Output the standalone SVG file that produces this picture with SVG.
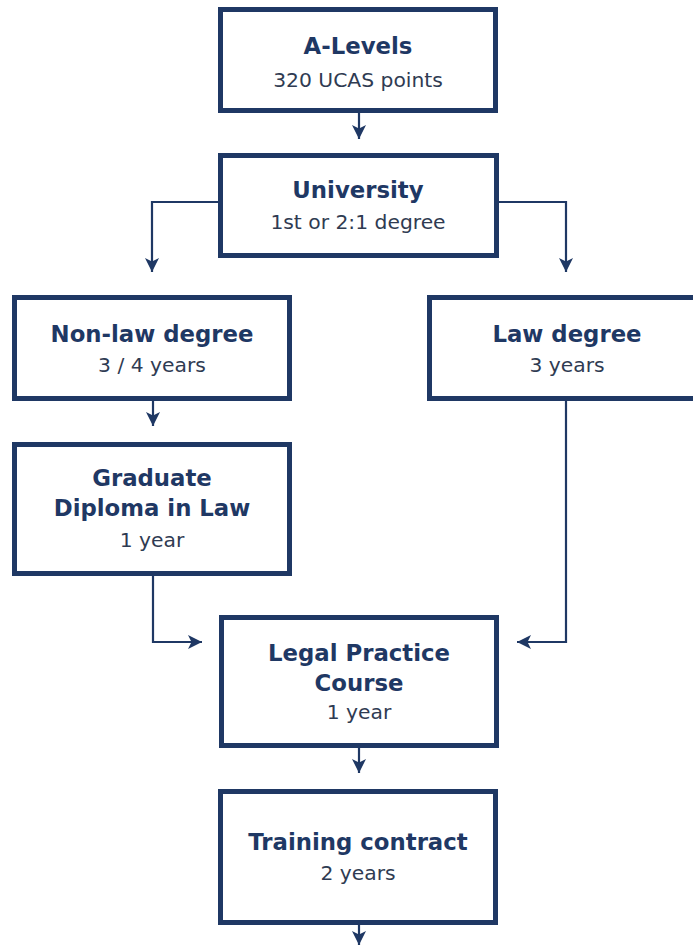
<svg xmlns="http://www.w3.org/2000/svg" width="693" height="946" viewBox="0 0 693 946">
<defs>
<style>
.box{fill:#ffffff;stroke:#1f3864;stroke-width:5}
.t{font-family:"DejaVu Sans",Verdana,sans-serif;font-weight:bold;font-size:22.8px;fill:#1f3864;text-anchor:middle}
.s{font-family:"DejaVu Sans",Verdana,sans-serif;font-size:20.3px;fill:#2f3b52;text-anchor:middle}
.c{fill:none;stroke:#1f3864;stroke-width:2.2}
</style>
<marker id="ah" markerWidth="16" markerHeight="16" refX="14" refY="7" orient="auto" markerUnits="userSpaceOnUse">
<path d="M0,0 L14,7 L0,14 L3.5,7 Z" fill="#1f3864"/>
</marker>
</defs>
<rect width="693" height="946" fill="#ffffff"/>
<g id="connectors">
<path class="c" d="M359,113 V139" marker-end="url(#ah)"/>
<path class="c" d="M218,202 H152 V272" marker-end="url(#ah)"/>
<path class="c" d="M499,202 H566 V272" marker-end="url(#ah)"/>
<path class="c" d="M153,401 V426" marker-end="url(#ah)"/>
<path class="c" d="M153,576 V642 H202" marker-end="url(#ah)"/>
<path class="c" d="M566,401 V642 H517" marker-end="url(#ah)"/>
<path class="c" d="M359,748 V773" marker-end="url(#ah)"/>
<path class="c" d="M359,925 V945" marker-end="url(#ah)"/>
</g>
<g id="alevels">
<rect class="box" x="220.5" y="9.5" width="275" height="101"/>
<text class="t" x="358" y="54">A-Levels</text>
<text class="s" x="358" y="87">320 UCAS points</text>
</g>
<g id="university">
<rect class="box" x="220.5" y="155.5" width="276" height="100"/>
<text class="t" x="358" y="198">University</text>
<text class="s" x="358" y="229">1st or 2:1 degree</text>
</g>
<g id="nonlaw">
<rect class="box" x="14.5" y="297.5" width="275" height="101"/>
<text class="t" x="152" y="342">Non-law degree</text>
<text class="s" x="152" y="372">3 / 4 years</text>
</g>
<g id="law">
<rect class="box" x="429.5" y="297.5" width="275" height="101"/>
<text class="t" x="567" y="342">Law degree</text>
<text class="s" x="567" y="372">3 years</text>
</g>
<g id="gdl">
<rect class="box" x="14.5" y="444.5" width="275" height="129"/>
<text class="t" x="152" y="486">Graduate</text>
<text class="t" x="152" y="516">Diploma in Law</text>
<text class="s" x="152" y="547">1 year</text>
</g>
<g id="lpc">
<rect class="box" x="221.5" y="617.5" width="275" height="128"/>
<text class="t" x="359" y="661">Legal Practice</text>
<text class="t" x="359" y="691">Course</text>
<text class="s" x="359" y="719">1 year</text>
</g>
<g id="training">
<rect class="box" x="220.5" y="791.5" width="275" height="131"/>
<text class="t" x="358" y="850">Training contract</text>
<text class="s" x="358" y="880">2 years</text>
</g>
</svg>
